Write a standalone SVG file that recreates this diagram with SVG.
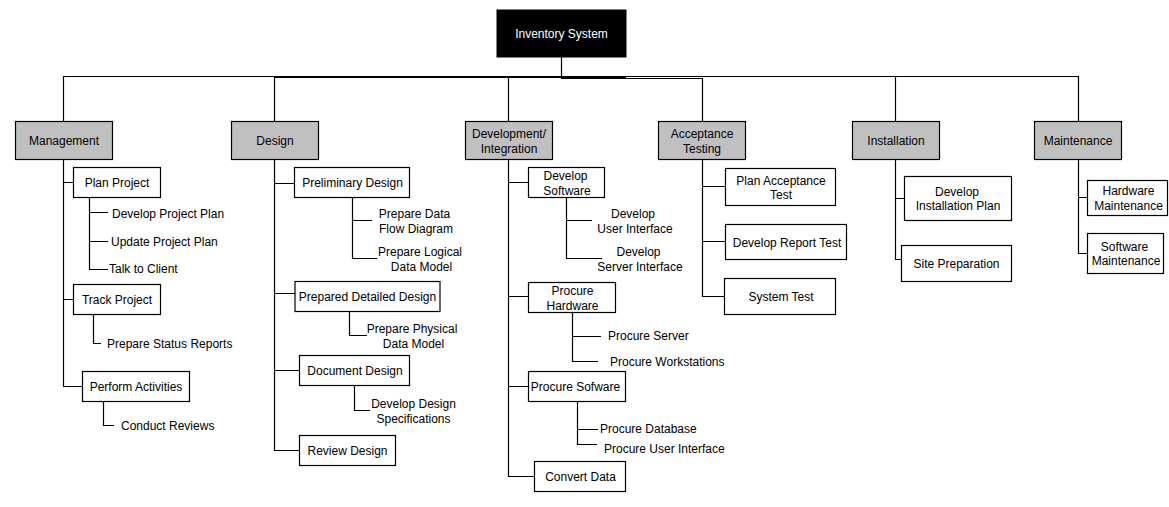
<svg xmlns="http://www.w3.org/2000/svg" width="1169" height="507" viewBox="0 0 1169 507">
<style>
.bx{fill:#fff;stroke:#000;stroke-width:1.2}
.gr{fill:#c0c0c0;stroke:#000;stroke-width:1.2}
.rt{fill:#000;stroke:#000;stroke-width:1}
text{font-family:"Liberation Sans",Arial,sans-serif;font-size:12px;fill:#000}
.c{text-anchor:middle}
.w{fill:#fff}
#connectors path{fill:none;stroke:#000;stroke-width:1.2}
</style>
<rect width="1169" height="507" fill="#fff"/>
<g id="connectors">
<path d="M63.5 121 V76.5 H1078.5 V121"/>
<path d="M274.5 77.5 H626" stroke-width="2"/>
<path d="M561.5 57 V78.5 H702.5 V121"/>
<path d="M274.5 76.5 V121 M508.5 76.5 V121 M895.5 76.5 V121"/>
<path d="M63.5 159 V386.5 H82 M63.5 182.5 H73 M63.5 299.5 H73"/>
<path d="M89.5 197 V269.5 H108 M89.5 212.5 H108 M89.5 241.5 H108"/>
<path d="M93.5 314 V343.5 H101"/>
<path d="M103.5 401 V425.5 H114"/>
<path d="M274.5 159 V450.5 H299 M274.5 183.5 H294 M274.5 293.5 H295 M274.5 370.5 H299"/>
<path d="M352.5 197 V258.5 H377 M352.5 220.5 H372"/>
<path d="M349.5 311 V335.5 H367"/>
<path d="M354.5 385 V410.5 H370"/>
<path d="M508.5 159 V476.5 H534 M508.5 182.5 H528 M508.5 296.5 H528 M508.5 386.5 H528"/>
<path d="M566.5 197 V258.5 H602 M566.5 220.5 H592"/>
<path d="M572.5 312 V361.5 H598 M572.5 336.5 H601"/>
<path d="M577.5 401 V444.5 H597 M577.5 429.5 H598"/>
<path d="M702.5 159 V296.5 H724 M702.5 186.5 H725 M702.5 241.5 H725"/>
<path d="M895.5 159 V259.5 H901 M895.5 198.5 H904"/>
<path d="M1078.5 159 V253.5 H1087 M1078.5 197.5 H1087"/>
</g>
<g id="root"><rect class="rt" x="497" y="10" width="129" height="47"/><text class="c w" x="561.5" y="38">Inventory System</text></g>
<g id="management"><rect class="gr" x="15.5" y="121.5" width="97" height="38"/><text class="c" x="64" y="144.5">Management</text></g>
<g id="design"><rect class="gr" x="231.5" y="121.5" width="87" height="38"/><text class="c" x="275" y="144.5">Design</text></g>
<g id="development"><rect class="gr" x="465.5" y="121.5" width="87" height="38"/><text class="c" x="509" y="138">Development/</text><text class="c" x="509" y="153">Integration</text></g>
<g id="acceptance"><rect class="gr" x="658.5" y="121.5" width="87" height="38"/><text class="c" x="702" y="138">Acceptance</text><text class="c" x="702" y="153">Testing</text></g>
<g id="installation"><rect class="gr" x="852.5" y="121.5" width="87" height="38"/><text class="c" x="896" y="144.5">Installation</text></g>
<g id="maintenance"><rect class="gr" x="1034.5" y="121.5" width="87" height="38"/><text class="c" x="1078" y="144.5">Maintenance</text></g>

<g id="plan-project"><rect class="bx" x="73.5" y="167.5" width="87" height="30"/><text class="c" x="117" y="186.5">Plan Project</text></g>
<g id="develop-project-plan"><text x="112" y="217.5">Develop Project Plan</text></g>
<g id="update-project-plan"><text x="111" y="246">Update Project Plan</text></g>
<g id="talk-to-client"><text x="109" y="273">Talk to Client</text></g>
<g id="track-project"><rect class="bx" x="73.5" y="284.5" width="87" height="30"/><text class="c" x="117" y="303.5">Track Project</text></g>
<g id="prepare-status-reports"><text x="107" y="348">Prepare Status Reports</text></g>
<g id="perform-activities"><rect class="bx" x="82.5" y="371.5" width="107" height="30"/><text class="c" x="136" y="390.5">Perform Activities</text></g>
<g id="conduct-reviews"><text x="121" y="430">Conduct Reviews</text></g>

<g id="preliminary-design"><rect class="bx" x="294.5" y="167.5" width="115" height="30"/><text class="c" x="352.5" y="187">Preliminary Design</text></g>
<g id="prepare-dfd"><text class="c" x="414.5" y="217.5">Prepare Data</text><text class="c" x="416" y="233">Flow Diagram</text></g>
<g id="prepare-logical"><text class="c" x="420" y="256">Prepare Logical</text><text class="c" x="421.5" y="271">Data Model</text></g>
<g id="prepared-detailed-design"><rect class="bx" x="295" y="281.5" width="145" height="30"/><text class="c" x="367.5" y="301">Prepared Detailed Design</text></g>
<g id="prepare-physical"><text class="c" x="412" y="333">Prepare Physical</text><text class="c" x="413.5" y="347.5">Data Model</text></g>
<g id="document-design"><rect class="bx" x="299.5" y="355.5" width="110" height="30"/><text class="c" x="355" y="375">Document Design</text></g>
<g id="develop-design-specs"><text class="c" x="413.5" y="408">Develop Design</text><text class="c" x="413.5" y="422.5">Specifications</text></g>
<g id="review-design"><rect class="bx" x="299.5" y="435.5" width="96" height="30"/><text class="c" x="347.5" y="454.5">Review Design</text></g>

<g id="develop-software"><rect class="bx" x="528.5" y="167.5" width="76" height="30"/><text class="c" x="565.5" y="180">Develop</text><text class="c" x="567" y="194.5">Software</text></g>
<g id="develop-ui"><text class="c" x="633" y="218">Develop</text><text class="c" x="635" y="232.5">User Interface</text></g>
<g id="develop-si"><text class="c" x="638.5" y="256">Develop</text><text class="c" x="640" y="270.5">Server Interface</text></g>
<g id="procure-hardware"><rect class="bx" x="528.5" y="282.5" width="87" height="30"/><text class="c" x="572.5" y="295">Procure</text><text class="c" x="572.5" y="310">Hardware</text></g>
<g id="procure-server"><text x="608" y="340">Procure Server</text></g>
<g id="procure-workstations"><text x="610" y="365.5">Procure Workstations</text></g>
<g id="procure-software"><rect class="bx" x="528.5" y="371.5" width="97" height="30"/><text class="c" x="575.5" y="390.5">Procure Sofware</text></g>
<g id="procure-database"><text x="600" y="433">Procure Database</text></g>
<g id="procure-ui"><text x="604" y="453">Procure User Interface</text></g>
<g id="convert-data"><rect class="bx" x="534.5" y="461.5" width="91" height="30"/><text class="c" x="580.5" y="481">Convert Data</text></g>

<g id="plan-acceptance-test"><rect class="bx" x="725.5" y="168.5" width="110" height="37"/><text class="c" x="781" y="184.5">Plan Acceptance</text><text class="c" x="781" y="199">Test</text></g>
<g id="develop-report-test"><rect class="bx" x="725.5" y="224.5" width="121" height="35"/><text class="c" x="787" y="247">Develop Report Test</text></g>
<g id="system-test"><rect class="bx" x="724.5" y="278.5" width="111" height="36"/><text class="c" x="781" y="301">System Test</text></g>

<g id="develop-installation-plan"><rect class="bx" x="904.5" y="176.5" width="107" height="44"/><text class="c" x="957" y="196">Develop</text><text class="c" x="958" y="210">Installation Plan</text></g>
<g id="site-preparation"><rect class="bx" x="901.5" y="245.5" width="110" height="36"/><text class="c" x="956.5" y="267.5">Site Preparation</text></g>

<g id="hardware-maintenance"><rect class="bx" x="1087.5" y="180.5" width="80" height="35"/><text class="c" x="1128.5" y="195">Hardware</text><text class="c" x="1128.5" y="210">Maintenance</text></g>
<g id="software-maintenance"><rect class="bx" x="1087.5" y="233.5" width="76" height="40"/><text class="c" x="1124.5" y="251">Software</text><text class="c" x="1126" y="265">Maintenance</text></g>
</svg>
